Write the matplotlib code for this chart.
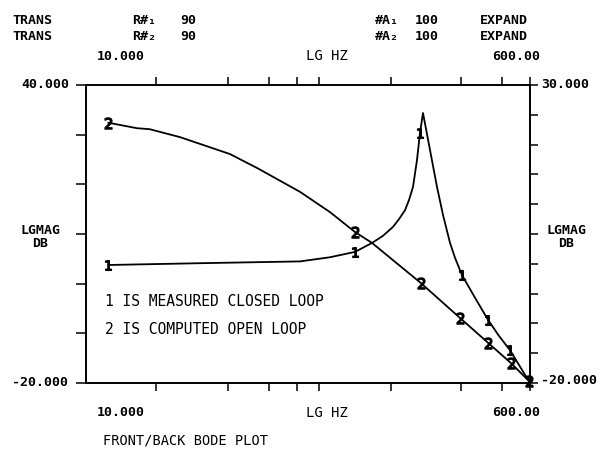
"""Front/back Bode plot: measured closed loop vs computed open loop."""
import matplotlib
matplotlib.use("Agg")
import matplotlib.pyplot as plt
from matplotlib.ticker import NullLocator

# curve 2: computed open loop (left axis, dB)
freq_open = [12.3, 16.0, 18.0, 23.8, 37.7, 48.4, 71.9, 94.9, 119.5, 139.8,
             219.6, 314.6, 407.4, 503.5, 594.0]
mag_open = [32.4, 31.3, 31.1, 29.5, 26.1, 23.3, 18.5, 14.4, 10.4, 8.2,
            0.1, -6.9, -11.9, -16.0, -19.6]
marks_open = [0, 8, 10, 11, 12, 13, 14]

# curve 1: measured closed loop (right axis, dB)
freq_closed = [12.3, 28.6, 71.9, 94.9, 119.5, 139.8, 154.7, 169.7, 179.3, 189.5,
               196.6, 204.0, 211.6, 217.6, 223.7, 238.6, 254.5, 269.0, 287.0,
               300.5, 320.5, 361.4, 407.4, 450.8, 499.0, 594.0]
mag_closed = [-0.2, 0.1, 0.4, 1.1, 2.0, 3.5, 4.7, 6.2, 7.5, 9.0,
              10.7, 12.9, 17.4, 22.0, 25.3, 19.1, 12.9, 8.2, 3.5,
              1.0, -1.9, -5.7, -9.4, -12.1, -14.5, -19.7]
marks_closed = [0, 4, 13, 20, 22, 24, 25]

x_range = (10.0, 600.0)
x_ticks = [19, 37, 54, 70, 86, 167, 318, 463, 600]
left_range = (-20, 40)
left_ticks = [-20, -10, 0, 10, 20, 30, 40]
right_range = (-20, 30)
right_ticks = [-20, -15, -10, -5, 0, 5, 10, 15, 20, 25, 30]

header_rows = [
    ["TRANS", "R#\u2081", "90", "#A\u2081", "100", "EXPAND"],
    ["TRANS", "R#\u2082", "90", "#A\u2082", "100", "EXPAND"],
]
legend_lines = ["1 IS MEASURED CLOSED LOOP", "2 IS COMPUTED OPEN LOOP"]

W, H = 601, 449
MONO = ["DejaVu Sans Mono"]


def px(x, y):
    return x / W, 1 - y / H


fig = plt.figure(figsize=(W / 100, H / 100), dpi=100)
ax = fig.add_axes([86 / W, 1 - 383 / H, 444 / W, 298 / H])
ax2 = ax.twinx()

ax.set_xscale("log")
ax.set_xlim(*x_range)
ax.set_ylim(*left_range)
ax2.set_ylim(*right_range)

ax.plot(freq_open, mag_open, color="black", lw=1.3, marker="$2$", ms=8,
        markevery=marks_open, clip_on=False)
ax2.plot(freq_closed, mag_closed, color="black", lw=1.3, marker="$1$", ms=7,
         markevery=marks_closed, clip_on=False)

# axes frame and ticks
for a in (ax, ax2):
    for s in a.spines.values():
        s.set_linewidth(1.2)
        s.set_color("black")

ax.xaxis.set_minor_locator(NullLocator())
ax.set_xticks(x_ticks)
ax.tick_params(axis="x", which="both", top=True, bottom=True, direction="out",
               length=6, width=1.1, labelbottom=False, labeltop=False)
ax.set_yticks(left_ticks)
ax.tick_params(axis="y", direction="out", length=7, width=1.1, labelleft=False)
ax2.set_yticks(right_ticks)
ax2.tick_params(axis="y", direction="out", length=6, width=1.1, labelright=False)

# header block
cols = [12, 132, 180, 375, 415, 480]
for row, y in zip(header_rows, [20, 37]):
    for txt, x in zip(row, cols):
        fig.text(*px(x, y), txt, family=MONO, fontsize=9.5, fontweight="bold",
                 ha="left", va="center")

# x axis labels, top and bottom
for y in (56, 413):
    fig.text(*px(121, y), "10.000", family=MONO, fontsize=9.5, fontweight="bold",
             ha="center", va="center")
    fig.text(*px(327, y), "LG HZ", family=MONO, fontsize=10, ha="center", va="center")
    fig.text(*px(516, y), "600.00", family=MONO, fontsize=9.5, fontweight="bold",
             ha="center", va="center")

# y axis extreme labels
fig.text(*px(69, 85), "40.000", family=MONO, fontsize=9.5, fontweight="bold",
         ha="right", va="center")
fig.text(*px(68, 382), "-20.000", family=MONO, fontsize=9.5, fontweight="bold",
         ha="right", va="center")
fig.text(*px(541, 85), "30.000", family=MONO, fontsize=9.5, fontweight="bold",
         ha="left", va="center")
fig.text(*px(541, 381), "-20.000", family=MONO, fontsize=9.5, fontweight="bold",
         ha="left", va="center")

for x in (40, 566):
    fig.text(*px(x, 231), "LGMAG", family=MONO, fontsize=9.5, fontweight="bold",
             ha="center", va="center")
    fig.text(*px(x, 243), "DB", family=MONO, fontsize=9.5, fontweight="bold",
             ha="center", va="center")

for txt, y in zip(legend_lines, [302, 330]):
    fig.text(*px(105, y), txt, family=MONO, fontsize=10.5, ha="left", va="center")

fig.text(*px(103, 441), "FRONT/BACK BODE PLOT", family=MONO, fontsize=9.8,
         ha="left", va="center")

fig.savefig("out.png", dpi=100)
